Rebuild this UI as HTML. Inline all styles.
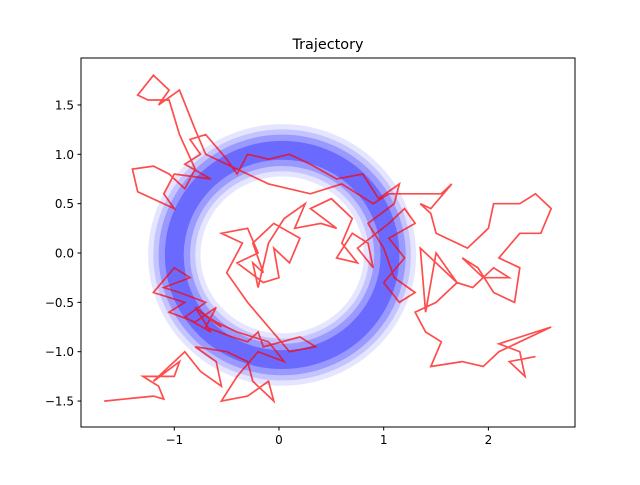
<!DOCTYPE html>
<html><head><meta charset="utf-8"><style>
body{margin:0;background:#fff;}
svg text{font-family:"DejaVu Sans","Liberation Sans",sans-serif;font-size:12px;fill:#000;}
</style></head><body>
<svg id="chart" width="640" height="480" xmlns="http://www.w3.org/2000/svg">
<rect width="640" height="480" fill="#fff"/>
<text x="328" y="49" text-anchor="middle" style="font-size:14.4px">Trajectory</text>
<g id="plot"></g>
<rect x="81" y="58" width="494" height="369" fill="none" stroke="#000" stroke-width="1"/>
<g id="ticks"></g>
</svg>
<script>
const xTicks=[-1,0,1,2];
const yTicks=[-1.5,-1.0,-0.5,0.0,0.5,1.0,1.5];
const ringCenter=[0.03,-0.02];
const ringRadius=[1.03,1.06];
const ringWidths=[0.5,0.4,0.3,0.18];
const ringAlphas=[0.1,0.14,0.22,0.3];
const trajX=[-1.67,-1.2,-1.1,-1.15,-1.3,-1.0,-0.95,-1.2,-0.9,-0.75,-0.55,-0.6,-0.8,-0.5,-0.3,-0.25,-0.05,-0.1,-0.3,-0.55,-0.4,-0.2,0.05,-0.1,-0.4,-0.6,-0.75,-0.55,-0.8,-0.65,-0.9,-0.7,-0.95,-1.1,-0.85,-1.0,-1.2,-0.9,-1.05,-0.8,-0.6,-0.7,-0.45,-0.3,-0.2,-0.15,0.2,0.35,0.1,-0.3,-0.5,-0.35,-0.55,-0.3,-0.2,-0.4,-0.15,0.0,-0.05,0.1,0.2,-0.05,-0.25,-0.15,-0.25,-0.2,-0.1,0.05,0.25,0.15,0.4,0.55,0.3,0.5,0.7,0.6,0.75,0.55,0.7,0.85,0.9,0.75,1.05,1.2,1.3,1.05,1.2,1.0,1.15,1.3,1.1,1.0,0.85,1.1,1.15,0.95,0.8,0.55,0.3,0.1,-0.1,-0.3,-0.4,-0.5,-0.7,-0.85,-0.75,-0.9,-0.65,-1.0,-1.1,-1.0,-1.35,-1.4,-1.2,-1.05,-0.9,-0.8,-0.95,-1.05,-1.25,-1.35,-1.2,-1.05,-1.15,-0.95,-0.8,-0.7,-0.4,-0.1,0.3,0.6,0.9,1.05,1.35,1.55,1.65,1.45,1.35,1.45,1.5,1.8,2.0,2.05,2.3,2.45,2.6,2.5,2.3,2.1,2.3,2.25,2.05,1.9,1.75,1.95,2.2,2.05,1.85,1.7,1.5,1.4,1.35,1.6,1.7,1.5,1.3,1.4,1.55,1.45,1.75,1.95,2.1,2.3,2.6,2.1,2.3,2.35,2.2,2.45];
const trajY=[-1.5,-1.45,-1.48,-1.35,-1.25,-1.25,-1.1,-1.3,-1.0,-1.2,-1.35,-1.1,-0.95,-1.0,-1.1,-1.3,-1.5,-1.3,-1.45,-1.5,-1.25,-1.0,-1.1,-0.9,-0.8,-0.7,-0.6,-0.75,-0.55,-0.8,-0.65,-0.5,-0.4,-0.35,-0.25,-0.15,-0.4,-0.5,-0.6,-0.7,-0.55,-0.75,-0.85,-0.9,-0.8,-0.95,-0.85,-0.95,-1.0,-0.5,-0.2,0.1,0.2,0.25,0.0,-0.1,-0.3,-0.25,0.05,-0.1,0.15,0.3,0.1,-0.2,-0.1,-0.35,0.1,0.35,0.5,0.25,0.3,0.25,0.45,0.55,0.35,0.1,-0.1,-0.05,0.2,0.1,-0.15,0.05,0.3,0.45,0.3,0.15,-0.05,-0.3,-0.5,-0.4,-0.25,0.05,0.3,0.5,0.7,0.55,0.8,0.75,0.9,1.0,0.95,1.0,0.8,0.95,1.2,1.15,1.0,0.9,0.75,0.8,0.6,0.45,0.62,0.85,0.88,0.8,0.65,0.85,1.2,1.55,1.55,1.6,1.8,1.65,1.5,1.65,1.25,1.0,0.85,0.7,0.6,0.7,0.5,0.6,0.6,0.6,0.7,0.45,0.5,0.4,0.2,0.05,0.25,0.5,0.5,0.6,0.45,0.2,0.2,-0.05,-0.15,-0.5,-0.4,-0.15,-0.05,-0.25,-0.25,-0.15,-0.35,-0.3,0.0,-0.6,0.05,-0.2,-0.3,-0.5,-0.6,-0.8,-0.9,-1.15,-1.1,-1.15,-1.0,-0.9,-0.75,-0.92,-1.0,-1.25,-1.1,-1.05];

const X0=279,XS=104.7,Y0=253,YS=98.7;
function sx(v){return X0+v*XS;}
function sy(v){return Y0-v*YS;}
const NS="http://www.w3.org/2000/svg";
const plot=document.getElementById('plot');
const ticks=document.getElementById('ticks');
function mk(tag,attrs,parent){const e=document.createElementNS(NS,tag);for(const k in attrs)e.setAttribute(k,attrs[k]);parent.appendChild(e);return e;}

// ring cloud (layered bands)
ringWidths.forEach((w,i)=>{
  const r=mk('ellipse',{cx:sx(ringCenter[0]),cy:sy(ringCenter[1]),rx:ringRadius[0]*XS,ry:ringRadius[1]*YS,fill:'none',stroke:'#0000ff','stroke-width':w*XS,'stroke-opacity':ringAlphas[i]},plot);
  
  
});

// trajectory
let d='';
for(let i=0;i<trajX.length;i++){d+=(i?'L':'M')+sx(trajX[i]).toFixed(1)+' '+sy(trajY[i]).toFixed(1);}
const line=mk('path',{d:d,fill:'none',stroke:'#ff0000','stroke-opacity':0.7,'stroke-width':1.7,'stroke-linejoin':'miter'},plot);



// ticks
xTicks.forEach(v=>{
  const t=mk('line',{x1:sx(v),x2:sx(v),y1:427,y2:430.5,stroke:'#000'},ticks);
  
  
  const l=mk('text',{x:sx(v),y:444,'text-anchor':'middle'},ticks);
  l.textContent=(v<0?'\u2212'+(-v):String(v));
  
  
});
yTicks.forEach(v=>{
  const t=mk('line',{x1:77.5,x2:81,y1:sy(v),y2:sy(v),stroke:'#000'},ticks);
  
  
  const l=mk('text',{x:74,y:sy(v)+4.5,'text-anchor':'end'},ticks);
  l.textContent=(v<0?'\u2212'+(-v).toFixed(1):v.toFixed(1));
  
  
});
</script>
</body></html>
